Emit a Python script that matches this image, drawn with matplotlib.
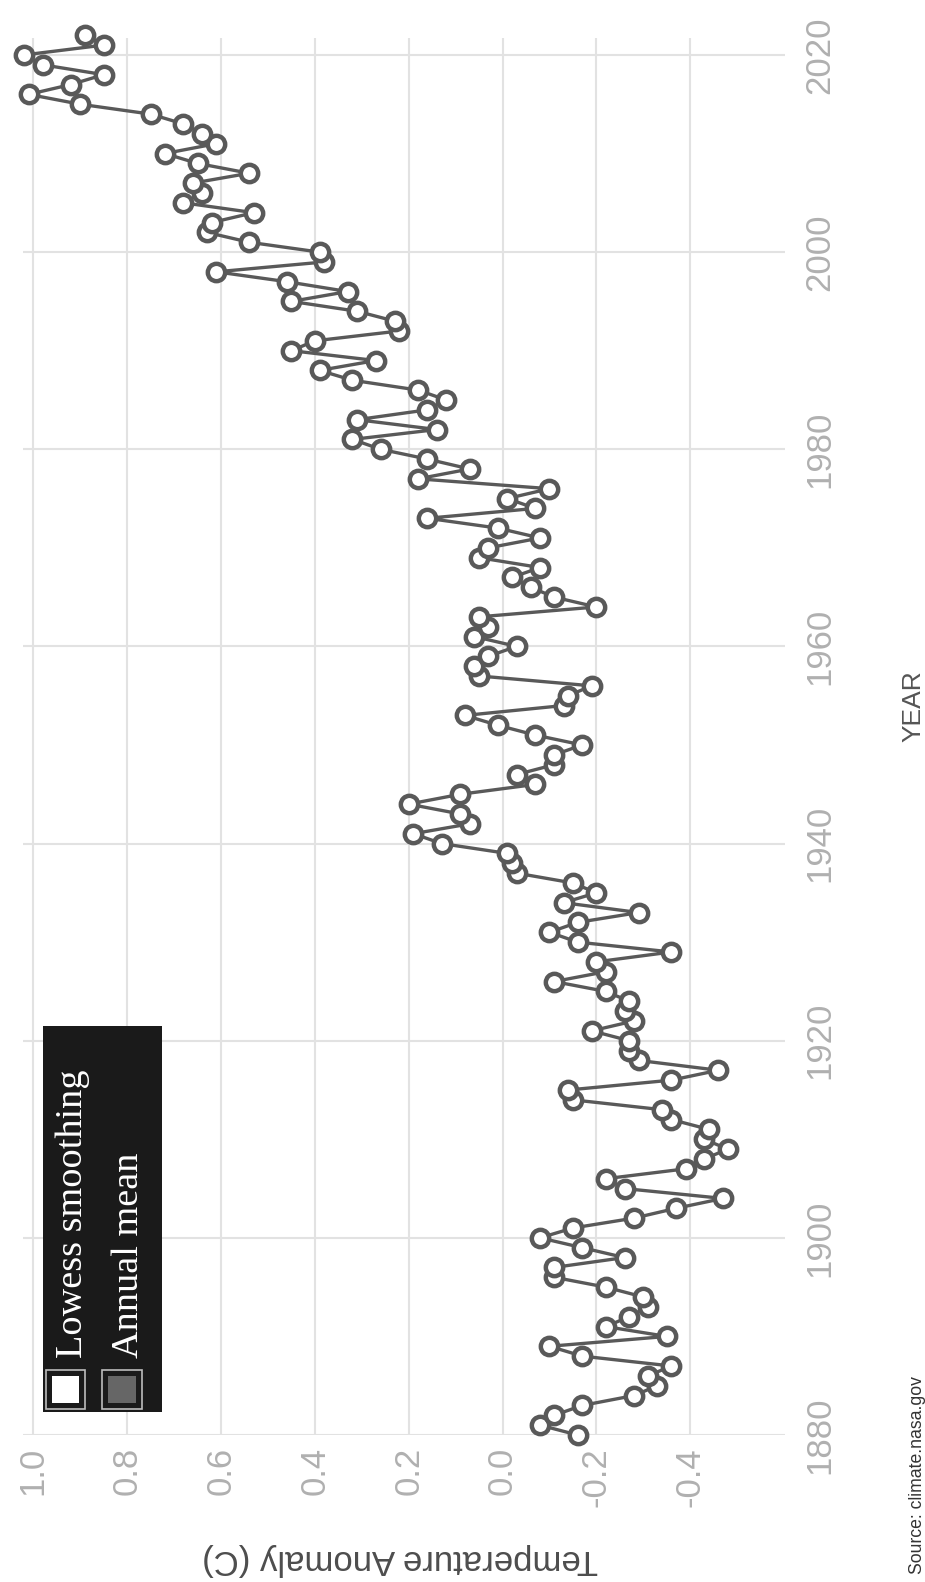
import matplotlib
matplotlib.use("Agg")
import matplotlib.pyplot as plt
from matplotlib.patches import Rectangle
from matplotlib import font_manager

# GISTEMP global land-ocean annual mean anomaly (deg C)
years = list(range(1880, 2023))
anomaly = [
    -0.16, -0.08, -0.11, -0.17, -0.28, -0.33, -0.31, -0.36, -0.17, -0.10,  # 1880s
    -0.35, -0.22, -0.27, -0.31, -0.30, -0.22, -0.11, -0.11, -0.26, -0.17,  # 1890s
    -0.08, -0.15, -0.28, -0.37, -0.47, -0.26, -0.22, -0.39, -0.43, -0.48,  # 1900s
    -0.43, -0.44, -0.36, -0.34, -0.15, -0.14, -0.36, -0.46, -0.29, -0.27,  # 1910s
    -0.27, -0.19, -0.28, -0.26, -0.27, -0.22, -0.11, -0.22, -0.20, -0.36,  # 1920s
    -0.16, -0.10, -0.16, -0.29, -0.13, -0.20, -0.15, -0.03, -0.02, -0.01,  # 1930s
    0.13, 0.19, 0.07, 0.09, 0.20, 0.09, -0.07, -0.03, -0.11, -0.11,        # 1940s
    -0.17, -0.07, 0.01, 0.08, -0.13, -0.14, -0.19, 0.05, 0.06, 0.03,       # 1950s
    -0.03, 0.06, 0.03, 0.05, -0.20, -0.11, -0.06, -0.02, -0.08, 0.05,      # 1960s
    0.03, -0.08, 0.01, 0.16, -0.07, -0.01, -0.10, 0.18, 0.07, 0.16,        # 1970s
    0.26, 0.32, 0.14, 0.31, 0.16, 0.12, 0.18, 0.32, 0.39, 0.27,            # 1980s
    0.45, 0.40, 0.22, 0.23, 0.31, 0.45, 0.33, 0.46, 0.61, 0.38,            # 1990s
    0.39, 0.54, 0.63, 0.62, 0.53, 0.68, 0.64, 0.66, 0.54, 0.65,            # 2000s
    0.72, 0.61, 0.64, 0.68, 0.75, 0.90, 1.01, 0.92, 0.85, 0.98,            # 2010s
    1.02, 0.85, 0.89,                                                      # 2020s
]

anomaly_ticks = [1.0, 0.8, 0.6, 0.4, 0.2, 0.0, -0.2, -0.4]
anomaly_tick_labels = ["1.0", "0.8", "0.6", "0.4", "0.2", "0.0", "-0.2", "-0.4"]
year_ticks = [1880, 1900, 1920, 1940, 1960, 1980, 2000, 2020]
year_tick_labels = [str(y) for y in year_ticks]
legend_labels = ["Lowess smoothing", "Annual mean"]

installed = {f.name for f in font_manager.fontManager.ttflist}
SANS = "Liberation Sans Narrow" if "Liberation Sans Narrow" in installed else "Liberation Sans"
SERIF = "Liberation Serif"

W, H = 925, 1582
fig = plt.figure(figsize=(W / 100, H / 100), dpi=100)
fig.patch.set_facecolor("white")


def fx(px):
    return px / W


def fy(py):
    return 1 - py / H


ax = fig.add_axes([fx(23), fy(1435), fx(785) - fx(23), fy(38) - fy(1435)])
ax.set_facecolor("white")

ax.plot(anomaly, years, color="#595959", lw=2.4, marker="o", ms=12.5,
        mfc="white", mec="#595959", mew=3.2, clip_on=False, zorder=3)

ax.set_xlim(1.022, -0.602)
ax.set_ylim(1880, 2021.72)

ax.set_xticks(anomaly_ticks)
ax.set_xticklabels(anomaly_tick_labels, rotation=90, va="top", ha="center",
                   color="#b0b0b0", fontsize=25, family=SANS)
ax.set_yticks(year_ticks)
ax.yaxis.tick_right()
ax.set_yticklabels(year_tick_labels, rotation=90, va="center", ha="left",
                   color="#b0b0b0", fontsize=25, family=SANS)
ax.tick_params(axis="both", length=0)
ax.tick_params(axis="x", pad=8.6)
ax.tick_params(axis="y", pad=13)

for s in ax.spines.values():
    s.set_visible(False)
ax.grid(True, color="#e2e2e2", lw=1.5)
ax.set_axisbelow(True)

# legend panel drawn in figure pixels
def rect(x0, y0, x1, y1, **kw):
    r = Rectangle((fx(x0), fy(y1)), fx(x1) - fx(x0), fy(y0) - fy(y1),
                  transform=fig.transFigure, **kw)
    fig.add_artist(r)

rect(43, 1026, 162, 1412, facecolor="#1a1a1a", edgecolor="none", zorder=5)
rect(46, 1370, 85, 1409, facecolor="#1a1a1a", edgecolor="#bdbdbd", lw=1.2, zorder=6)
rect(52, 1376, 79, 1403, facecolor="white", edgecolor="none", zorder=7)
rect(102, 1370, 142, 1409, facecolor="#1a1a1a", edgecolor="#bdbdbd", lw=1.2, zorder=6)
rect(108, 1376, 136, 1403, facecolor="#666666", edgecolor="none", zorder=7)

for bx, lab in zip([82, 138], legend_labels):
    fig.text(fx(bx), fy(1358), lab, rotation=90, rotation_mode="anchor",
             ha="left", va="baseline", color="white", fontsize=27.5,
             family=SERIF, zorder=8)

fig.text(fx(400), fy(1550), "Temperature Anomaly (C)", rotation=180,
         rotation_mode="anchor", ha="center", va="baseline", fontsize=25,
         color="#4d4d4d", family=SANS)
fig.text(fx(920), fy(706), "YEAR", rotation=90, rotation_mode="anchor",
         ha="center", va="baseline", fontsize=19, color="#555555", family=SANS)
fig.text(fx(922), fy(1574), "Source: climate.nasa.gov", rotation=90,
         rotation_mode="anchor", ha="left", va="baseline", fontsize=12.7,
         color="#333333", family=SANS)

fig.savefig("out.png", dpi=100)
